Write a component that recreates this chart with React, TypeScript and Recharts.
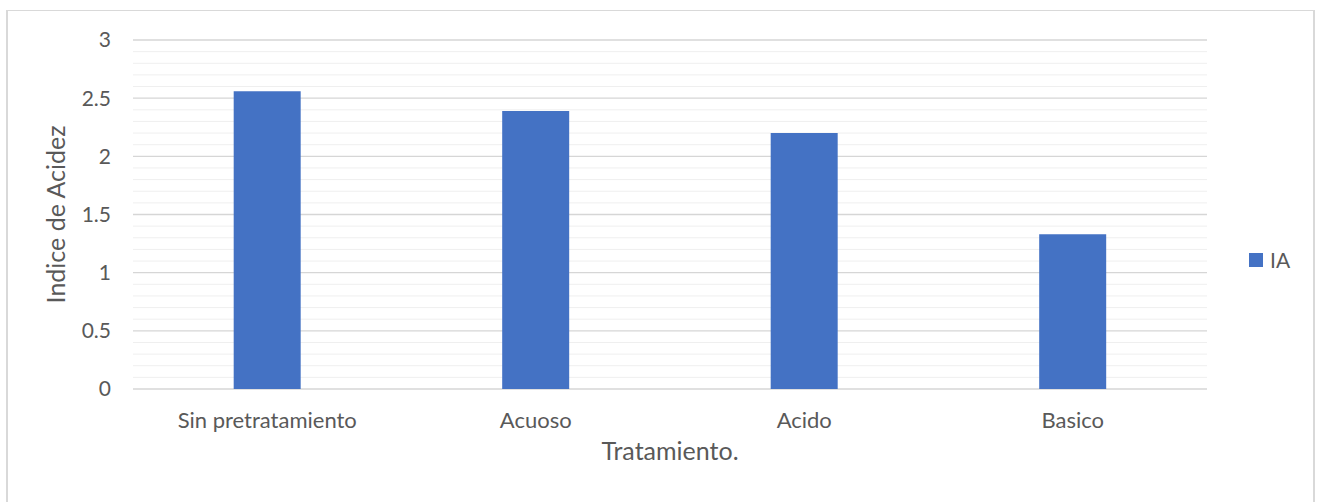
import { BarChart, Bar, XAxis, YAxis, ReferenceLine, Label } from 'recharts';

// Acid index per pretreatment
const treatments = ['Sin pretratamiento', 'Acuoso', 'Acido', 'Basico'];
const acidIndex = [2.56, 2.39, 2.2, 1.33];
const seriesName = 'IA';

// major ticks every 0.5, minor gridlines every 0.1
const majorTicks = [0, 0.5, 1, 1.5, 2, 2.5, 3];
const minorTicks = [
  0.1, 0.2, 0.3, 0.4, 0.6, 0.7, 0.8, 0.9, 1.1, 1.2, 1.3, 1.4, 1.6, 1.7, 1.8,
  1.9, 2.1, 2.2, 2.3, 2.4, 2.6, 2.7, 2.8, 2.9,
];

const rows = treatments.map((name, i) => ({ name, [seriesName]: acidIndex[i] }));

const FONT = 'Lato, "Liberation Sans", sans-serif';
const TEXT = '#595959';
const BAR = '#4472C4';

export default function App() {
  return (
    <div
      style={{
        position: 'fixed',
        left: 0,
        top: 0,
        width: 1322,
        height: 502,
        overflow: 'hidden',
        background: '#fff',
        fontFamily: FONT,
      }}
    >
      <div style={{ position: 'absolute', left: 0, top: 0 }}>
        <BarChart
          width={1322}
          height={502}
          data={rows}
          margin={{ top: 40, right: 115, bottom: 83, left: 73 }}
          barCategoryGap="37.5%"
        >
          {minorTicks.map((v) => (
            <ReferenceLine key={`minor-${v}`} y={v} stroke="#EFEFEF" zIndex={-100} />
          ))}
          {majorTicks.map((v) => (
            <ReferenceLine key={`major-${v}`} y={v} stroke="#D6D6D6" strokeWidth={1.4} zIndex={-100} />
          ))}
          <XAxis
            dataKey="name"
            axisLine={false}
            tickLine={false}
            tickSize={0}
            tickMargin={23}
            height={30}
            tick={{ fill: TEXT, fontSize: 22, fontFamily: FONT }}
          >
            <Label
              value="Tratamiento."
              position="insideBottom"
              offset={-41}
              style={{ fill: TEXT, fontSize: 25, fontFamily: FONT }}
            />
          </XAxis>
          <YAxis
            domain={[0, 3]}
            ticks={majorTicks}
            axisLine={false}
            tickLine={false}
            tickSize={0}
            tickMargin={22}
            width={60}
            tick={{ fill: TEXT, fontSize: 21, fontFamily: FONT }}
          >
            <Label
              value="Indice de Acidez"
              angle={-90}
              position="insideLeft"
              offset={-17}
              style={{ fill: TEXT, fontSize: 25, fontFamily: FONT, textAnchor: 'middle' }}
            />
          </YAxis>
          <Bar dataKey={seriesName} fill={BAR} isAnimationActive={false} />
        </BarChart>
      </div>
      <div
        style={{
          position: 'absolute',
          left: 1249,
          top: 247,
          display: 'flex',
          alignItems: 'center',
          gap: 7,
          color: TEXT,
          fontSize: 21,
        }}
      >
        <span style={{ display: 'inline-block', width: 14, height: 14, background: BAR }} />
        <span>{seriesName}</span>
      </div>
      <div
        style={{
          position: 'absolute',
          left: 6,
          top: 10,
          width: 1305,
          height: 500,
          borderTop: '1px solid #D9D9D9',
          borderLeft: '2px solid #D9D9D9',
          borderRight: '2px solid #D9D9D9',
          pointerEvents: 'none',
        }}
      />
    </div>
  );
}
